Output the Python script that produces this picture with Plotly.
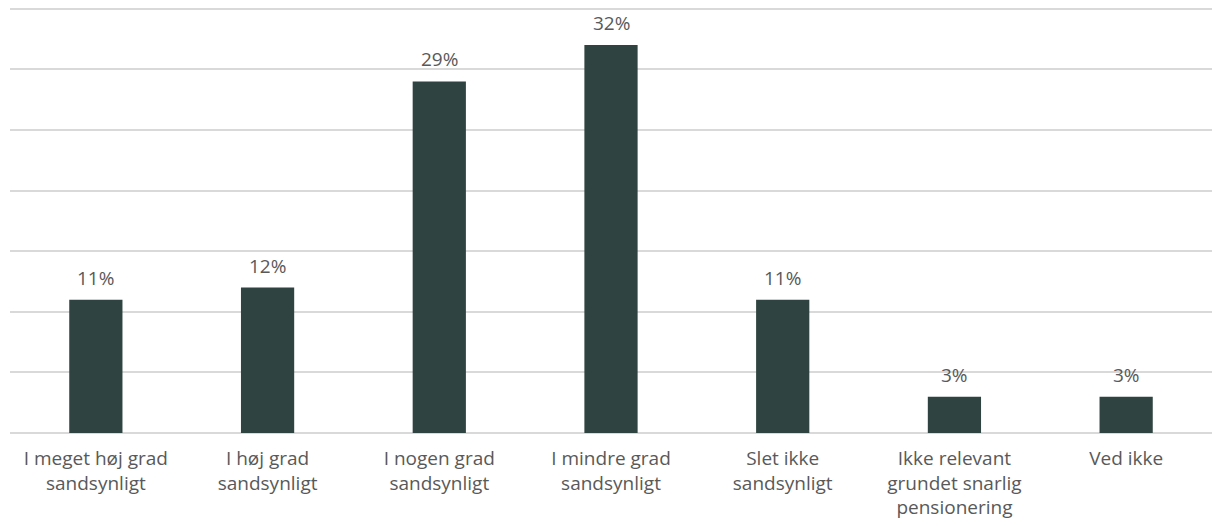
import plotly.graph_objects as go

categories = [
    "I meget høj grad<br>sandsynligt",
    "I høj grad<br>sandsynligt",
    "I nogen grad<br>sandsynligt",
    "I mindre grad<br>sandsynligt",
    "Slet ikke<br>sandsynligt",
    "Ikke relevant<br>grundet snarlig<br>pensionering",
    "Ved ikke",
]
values = [11, 12, 29, 32, 11, 3, 3]
labels = [f"{v}%" for v in values]

FONT = "Open Sans, sans-serif"
GREY = "#595959"

fig = go.Figure(
    go.Bar(
        x=categories,
        y=values,
        marker=dict(color="#2f4440", line=dict(width=0)),
        width=0.31,
    )
)

for c, v, t in zip(categories, values, labels):
    fig.add_annotation(
        x=c, y=v, text=t, showarrow=False,
        yanchor="middle", yshift=22,
        font=dict(family=FONT, size=19, color=GREY),
    )

fig.update_layout(
    width=1212,
    height=526,
    margin=dict(l=10, r=0, t=5, b=93),
    plot_bgcolor="white",
    paper_bgcolor="white",
    font=dict(family=FONT, color=GREY, size=19),
    showlegend=False,
)
fig.update_yaxes(
    range=[0, 35.3],
    tickvals=[0, 5, 10, 15, 20, 25, 30, 35],
    showticklabels=False,
    gridcolor="#d9d9d9",
    gridwidth=2,
    zeroline=True,
    zerolinecolor="#d9d9d9",
    zerolinewidth=2,
)
fig.update_xaxes(
    tickfont=dict(family=FONT, size=19, color=GREY),
    showgrid=False,
    ticks="",
    ticklabelstandoff=12,
)

fig.write_html("out.html")
